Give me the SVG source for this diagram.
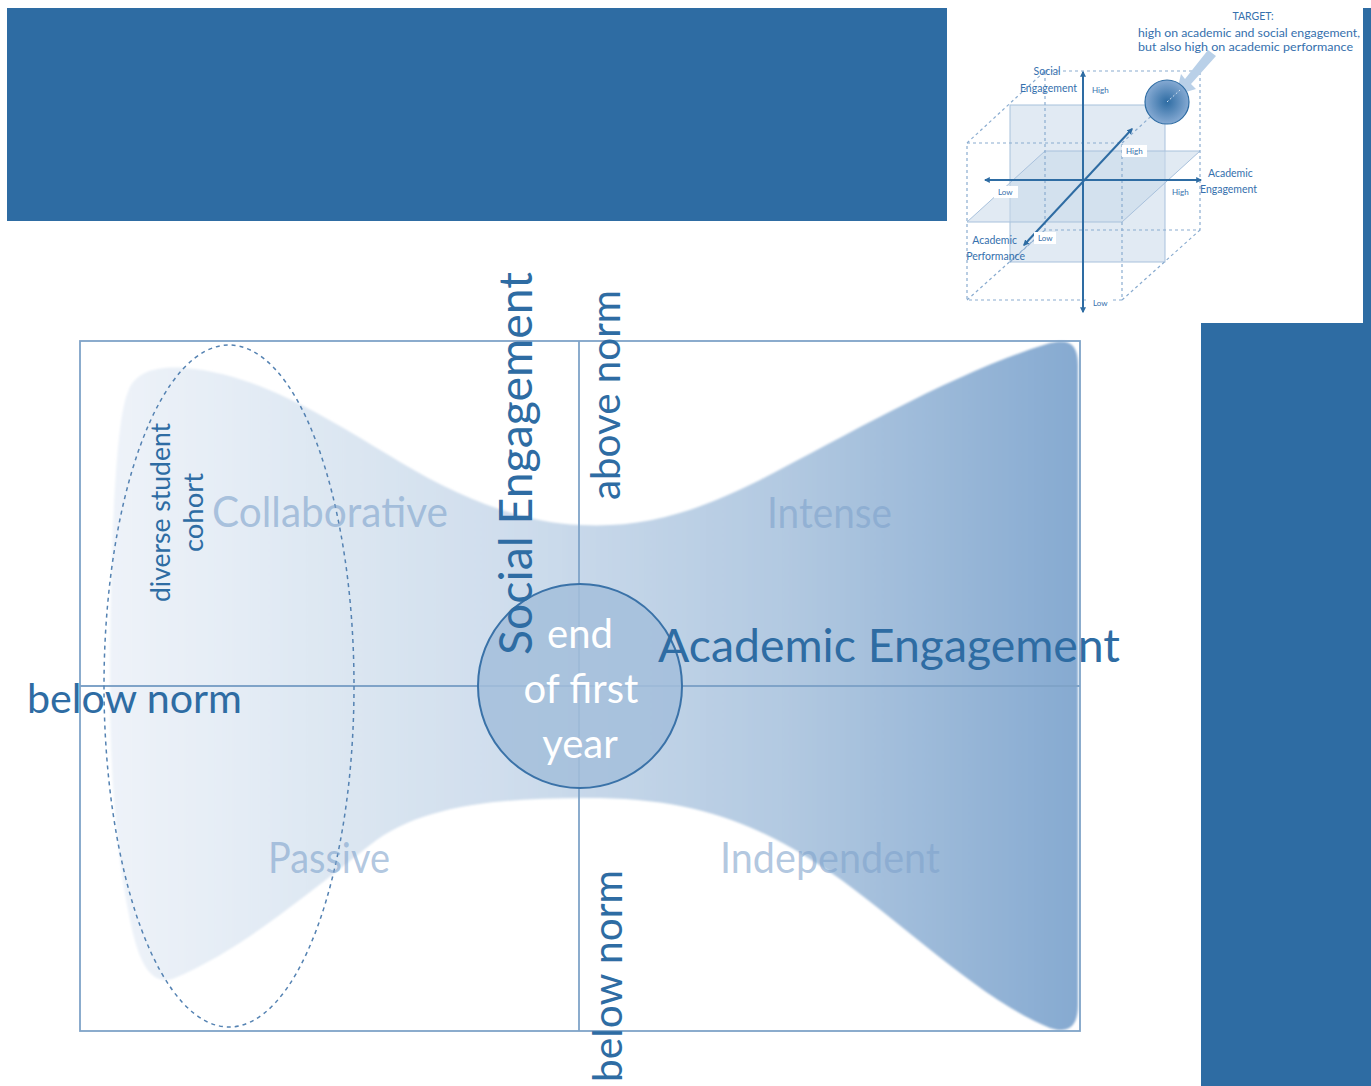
<svg xmlns="http://www.w3.org/2000/svg" width="1371" height="1086" viewBox="0 0 1371 1086">
<style>
.main{font-family:Lato,"Open Sans","Liberation Sans",sans-serif;fill:#2e6ca3}
.quad{font-family:Lato,"Open Sans","Liberation Sans",sans-serif;fill:#7fa3cc;fill-opacity:0.6;font-size:42px}
.white{font-family:Lato,"Open Sans","Liberation Sans",sans-serif;fill:#ffffff;font-size:40px;text-anchor:middle}
.ins{font-family:Lato,"Open Sans","Liberation Sans",sans-serif;fill:#3570ad}
.grid{stroke:#7fa3c8;stroke-width:1.8;fill:none}
.axis{stroke:#2e6ca3;stroke-width:2;fill:none}
.dash{stroke:#8aacd0;stroke-width:1.2;stroke-dasharray:3 3;fill:none}
.plane{fill:#c9d8ea;fill-opacity:0.55;stroke:#a8c1dc;stroke-width:1}
.lbl{fill:#ffffff}
</style>
<defs>
<linearGradient id="hg" x1="110" y1="0" x2="1078" y2="0" gradientUnits="userSpaceOnUse">
<stop offset="0" stop-color="#eef3f9"/>
<stop offset="0.4" stop-color="#d0deed"/>
<stop offset="0.7" stop-color="#b2c9e1"/>
<stop offset="1" stop-color="#86aad1"/>
</linearGradient>
<radialGradient id="tg" cx="0.5" cy="0.5" r="0.5">
<stop offset="0" stop-color="#2e6ca3"/>
<stop offset="1" stop-color="#86aad3"/>
</radialGradient>
<filter id="soft" x="-5%" y="-5%" width="110%" height="110%"><feGaussianBlur stdDeviation="1.2"/></filter>
<marker id="ah" viewBox="0 0 10 10" refX="8" refY="5" markerWidth="6" markerHeight="6" orient="auto-start-reverse" markerUnits="userSpaceOnUse">
<path d="M0,0 L10,5 L0,10 Z" fill="#2e6ca3"/>
</marker>
</defs>
<rect width="1371" height="1086" fill="#ffffff"/>
<g id="bg-blocks" fill="#2e6ca3">
<rect x="7" y="8" width="940" height="213"/>
<rect x="1363" y="8" width="8" height="316"/>
<rect x="1201" y="323" width="170" height="763"/>
</g>
<g id="hourglass">
<path filter="url(#soft)" fill="url(#hg)" d="M 110 690 C 110 560, 115 420, 128 392 C 135 370, 160 366, 185 368 C 260 374, 330 420, 400 462 C 460 498, 520 522, 580 525 C 640 528, 690 515, 760 480 C 860 428, 960 370, 1050 343 C 1070 338, 1078 345, 1078 365 L 1078 1005 C 1078 1030, 1065 1033, 1050 1028 C 980 1000, 900 920, 830 872 C 760 825, 700 800, 600 798 C 500 797, 420 805, 370 845 C 300 900, 240 950, 175 978 C 150 988, 138 960, 130 920 C 115 850, 110 760, 110 690 Z"/>
</g>
<g id="connectors">
<rect class="grid" x="80" y="341" width="1000" height="690"/>
<line class="grid" x1="579" y1="341" x2="579" y2="1031" stroke-width="1.5"/>
<line class="grid" x1="80" y1="686" x2="1080" y2="686" stroke-width="1.5"/>
</g>
<g id="cohort">
<ellipse cx="229" cy="686" rx="125" ry="341" fill="none" stroke="#5482b2" stroke-width="1.5" stroke-dasharray="4 4"/>
<text class="main" font-size="27" transform="translate(170,602) rotate(-90)" textLength="179" lengthAdjust="spacingAndGlyphs">diverse student</text>
<text class="main" font-size="27" transform="translate(203,552) rotate(-90)" textLength="79" lengthAdjust="spacingAndGlyphs">cohort</text>
</g>
<g id="quadrants">
<text class="quad" x="212" y="527" textLength="236" lengthAdjust="spacingAndGlyphs">Collaborative</text>
<text class="quad" x="767" y="528" textLength="125" lengthAdjust="spacingAndGlyphs">Intense</text>
<text class="quad" x="268" y="873" textLength="122" lengthAdjust="spacingAndGlyphs">Passive</text>
<text class="quad" x="720" y="873" textLength="220" lengthAdjust="spacingAndGlyphs">Independent</text>
</g>
<g id="center">
<circle cx="580" cy="686" r="102" fill="#a3bedb" fill-opacity="0.85" stroke="#3a72a8" stroke-width="2"/>
<text class="white" x="580" y="648">end</text>
<text class="white" x="581" y="703">of first</text>
<text class="white" x="580" y="758">year</text>
</g>
<g id="axis-labels">
<text class="main" font-size="46" transform="translate(532,655) rotate(-90)" textLength="383" lengthAdjust="spacingAndGlyphs">Social Engagement</text>
<text class="main" font-size="40" transform="translate(620,500) rotate(-90)" textLength="210" lengthAdjust="spacingAndGlyphs">above norm</text>
<text class="main" font-size="40" transform="translate(622,1082) rotate(-90)" textLength="212" lengthAdjust="spacingAndGlyphs">below norm</text>
<text class="main" font-size="46" x="658" y="662" textLength="462" lengthAdjust="spacingAndGlyphs">Academic Engagement</text>
<text class="main" font-size="40" x="27" y="713" textLength="215" lengthAdjust="spacingAndGlyphs">below norm</text>
</g>
<g id="inset">
<rect class="plane" x="1010" y="105" width="155" height="157"/>
<polygon class="plane" points="1045,151 1200,151 1122,222 967,222"/>
<rect class="dash" x="967" y="143" width="155" height="157"/>
<rect class="dash" x="1045" y="71" width="155" height="159"/>
<line class="dash" x1="967" y1="143" x2="1045" y2="71"/>
<line class="dash" x1="1122" y1="143" x2="1200" y2="71"/>
<line class="dash" x1="967" y1="300" x2="1045" y2="230"/>
<line class="dash" x1="1122" y1="300" x2="1200" y2="230"/>
<line class="dash" x1="1010" y1="262" x2="1045" y2="230"/>
<line class="axis" x1="1083" y1="312" x2="1083" y2="72" marker-end="url(#ah)" marker-start="url(#ah)"/>
<line class="axis" x1="985" y1="180" x2="1201" y2="180" marker-end="url(#ah)" marker-start="url(#ah)"/>
<line class="axis" x1="1024" y1="245" x2="1132" y2="129" marker-end="url(#ah)" marker-start="url(#ah)"/>
<polygon fill="#b9d0e8" points="1216,56 1191,84 1196,89 1176,95 1181,74 1185,79 1208,50"/>
<circle cx="1167" cy="102" r="22" fill="url(#tg)" stroke="#2e6ca3" stroke-width="1.2"/>
<line x1="1167" y1="102" x2="1180" y2="90" stroke="#d6e4f2" stroke-width="1" stroke-dasharray="2 2"/>
<rect class="lbl" x="1122" y="145" width="25" height="12"/>
<rect class="lbl" x="994" y="186" width="24" height="12"/>
<rect class="lbl" x="1169" y="186" width="25" height="12"/>
<rect class="lbl" x="1034" y="232" width="22" height="12"/>
<rect class="lbl" x="1089" y="297" width="22" height="12"/>
<text class="ins" font-size="8" x="1092" y="93">High</text>
<text class="ins" font-size="8" x="1126" y="154">High</text>
<text class="ins" font-size="8" x="998" y="195">Low</text>
<text class="ins" font-size="8" x="1172" y="195">High</text>
<text class="ins" font-size="8" x="1038" y="241">Low</text>
<text class="ins" font-size="8" x="1093" y="306">Low</text>
<text class="ins" font-size="10.5" x="1047" y="75" text-anchor="middle">Social</text>
<text class="ins" font-size="10.5" x="1077" y="92" text-anchor="end">Engagement</text>
<text class="ins" font-size="10.5" x="1208" y="177">Academic</text>
<text class="ins" font-size="10.5" x="1200" y="193">Engagement</text>
<text class="ins" font-size="10.5" x="1017" y="244" text-anchor="end">Academic</text>
<text class="ins" font-size="10.5" x="1025" y="260" text-anchor="end">Performance</text>
<text class="ins" font-size="10.5" x="1253" y="20" text-anchor="middle">TARGET:</text>
<text class="ins" font-size="10.5" x="1138" y="37" textLength="222" lengthAdjust="spacingAndGlyphs">high on academic and social engagement,</text>
<text class="ins" font-size="10.5" x="1138" y="51" textLength="215" lengthAdjust="spacingAndGlyphs">but also high on academic performance</text>
</g>
</svg>
